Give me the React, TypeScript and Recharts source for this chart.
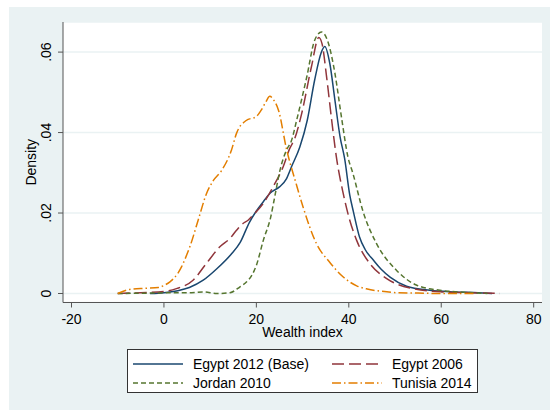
import { CartesianGrid, Legend, Line, LineChart, XAxis, YAxis } from "recharts";

// kernel density curves
const egypt2012X = [-3, 0, 3, 5.5, 8.5, 11.5, 14.5, 16.5, 18.5, 20, 21.5, 23, 25, 26.5, 27.6, 29.4, 31, 32.6, 34, 34.8, 35.9, 37, 38.1, 39.1, 40.2, 41, 42.3, 43.5, 45.3, 47, 49, 52.5, 57.5, 63, 68, 71];
const egypt2012Y = [0, 0.0002, 0.0007, 0.0015, 0.0033, 0.0062, 0.0097, 0.0127, 0.0177, 0.0205, 0.0228, 0.025, 0.0265, 0.0285, 0.0315, 0.0364, 0.043, 0.053, 0.0598, 0.0614, 0.0571, 0.048, 0.039, 0.0335, 0.0245, 0.0203, 0.0141, 0.011, 0.0083, 0.006, 0.004, 0.0018, 0.0008, 0.0004, 0.0002, 0];

const egypt2006X = [-10, -5, 0, 2.7, 6.3, 9.2, 12.1, 14.3, 15.7, 17.1, 18.2, 19.3, 21.5, 23.6, 25.8, 27.2, 28.3, 29.8, 31.9, 33.5, 34.2, 35.2, 36.3, 37.3, 38.8, 39.8, 41.7, 44.5, 48.2, 53.9, 60, 66, 72.7];
const egypt2006Y = [0, 0.0002, 0.0005, 0.0012, 0.0033, 0.0075, 0.0116, 0.0137, 0.0157, 0.0174, 0.0182, 0.0195, 0.0224, 0.0265, 0.0315, 0.036, 0.0385, 0.0447, 0.0563, 0.0636, 0.0621, 0.0538, 0.043, 0.034, 0.0248, 0.0199, 0.0132, 0.0075, 0.0037, 0.0012, 0.0004, 0.0002, 0];

const jordan2010X = [-10, -3, 3, 6, 8.5, 11.5, 14.3, 16.4, 17.9, 19, 20, 21.5, 23.1, 24.1, 25.1, 26.5, 27.6, 28.7, 30.9, 32.6, 34.1, 35.5, 37, 38.4, 39.8, 40.9, 43.1, 46, 50.3, 54.6, 59.7, 65, 70];
const jordan2010Y = [0, 0.0001, 0.0002, 0.0002, 0.0004, 0, 0.0002, 0.0016, 0.0029, 0.0045, 0.007, 0.0132, 0.019, 0.0248, 0.0306, 0.0356, 0.038, 0.043, 0.0538, 0.0629, 0.065, 0.0625, 0.0547, 0.0439, 0.034, 0.0298, 0.0203, 0.0124, 0.0058, 0.0021, 0.0008, 0.0003, 0];

const tunisia2014X = [-10, -7.4, -4, -1.2, 0, 1.3, 3, 3.8, 5, 5.6, 7.4, 9.2, 10.7, 12.5, 14.6, 15.7, 17.8, 20, 21, 22, 22.9, 23.8, 24.8, 26.5, 28.6, 30.1, 33, 35.9, 38.8, 41.7, 44, 46.7, 50.3, 55, 60, 67];
const tunisia2014Y = [0, 0.001, 0.0013, 0.0015, 0.002, 0.0029, 0.005, 0.0066, 0.0098, 0.0116, 0.0182, 0.0248, 0.0281, 0.0306, 0.0356, 0.0398, 0.043, 0.044, 0.0455, 0.0475, 0.049, 0.048, 0.0455, 0.036, 0.0273, 0.0215, 0.0124, 0.0077, 0.0041, 0.0019, 0.0011, 0.0006, 0.0002, 0.0001, 0, 0];

const xTicks = [-20, 0, 20, 40, 60, 80];
const yTicks = [0, 0.02, 0.04, 0.06];

const toPoints = (xs: number[], ys: number[]) => xs.map((x, i) => ({ x, y: ys[i] }));

const FONT = '"Liberation Sans", Arial, sans-serif';

const series = [
  { name: "Egypt 2012 (Base)", data: toPoints(egypt2012X, egypt2012Y), color: "#1A476F", dash: undefined as string | undefined },
  { name: "Egypt 2006", data: toPoints(egypt2006X, egypt2006Y), color: "#90353B", dash: "12 5" },
  { name: "Jordan 2010", data: toPoints(jordan2010X, jordan2010Y), color: "#55752F", dash: "5 3" },
  { name: "Tunisia 2014", data: toPoints(tunisia2014X, tunisia2014Y), color: "#E37E00", dash: "9 3 1.5 3" },
];

const fmtY = (v: number) => (v === 0 ? "0" : v.toFixed(2).replace(/^0/, ""));

function YTick(props: any) {
  const { x, y, payload } = props;
  return (
    <text x={x} y={y} transform={`rotate(-90 ${x} ${y})`} textAnchor="middle" fontSize={14} fill="#000" fontFamily={FONT}>
      {fmtY(payload.value)}
    </text>
  );
}

function LegendBox() {
  return (
    <div
      style={{
        boxSizing: "border-box",
        width: 351,
        height: 44,
        background: "#fff",
        border: "1px solid #333",
        display: "grid",
        gridTemplateColumns: "199px 1fr",
        padding: "4px 0 0 5px",
        fontFamily: FONT,
        fontSize: 14,
        color: "#000",
      }}
    >
      {series.map((s) => (
        <div key={s.name} style={{ display: "flex", alignItems: "center", height: 19 }}>
          <svg width={50} height={10} style={{ marginRight: 10 }}>
            <line x1={0} y1={5} x2={50} y2={5} stroke={s.color} strokeWidth={1.5} strokeDasharray={s.dash} />
          </svg>
          <span>{s.name}</span>
        </div>
      ))}
    </div>
  );
}

export default function App() {
  return (
    <div style={{ position: "absolute", left: 0, top: 0, width: 550, height: 410, background: "#fff", overflow: "hidden" }}>
      <div style={{ position: "absolute", left: 9, top: 7, right: 0, bottom: 0, background: "#EAF2F3" }} />
      <div style={{ position: "absolute", left: 0, top: 0 }}>
        <LineChart width={550} height={410} margin={{ top: 22, right: 8, bottom: 0, left: 0 }}>
          <CartesianGrid vertical={false} fill="#fff" stroke="#EAF2F3" strokeWidth={1.5} />
          <XAxis
            type="number"
            dataKey="x"
            domain={[-21.84, 81.8]}
            ticks={xTicks}
            allowDataOverflow
            height={107.5}
            tickSize={5}
            tickMargin={7}
            stroke="#555"
            tick={{ fontSize: 14, fill: "#000", fontFamily: FONT }}
            label={({ viewBox }: any) => (
              <text x={viewBox.x + viewBox.width / 2} y={337} textAnchor="middle" fontSize={14} fill="#000" fontFamily={FONT}>
                Wealth index
              </text>
            )}
          />
          <YAxis
            type="number"
            dataKey="y"
            domain={[-0.00224, 0.06748]}
            ticks={yTicks}
            allowDataOverflow
            width={63}
            tickSize={5}
            tickMargin={7}
            stroke="#555"
            tick={<YTick />}
            label={({ viewBox }: any) => (
              <text x={36} y={viewBox.y + viewBox.height / 2} transform={`rotate(-90 36 ${viewBox.y + viewBox.height / 2})`} textAnchor="middle" fontSize={14} fill="#000" fontFamily={FONT}>
                Density
              </text>
            )}
          />
          {series.map((s) => (
            <Line
              key={s.name}
              data={s.data}
              dataKey="y"
              name={s.name}
              type="monotone"
              stroke={s.color}
              strokeWidth={1.5}
              strokeDasharray={s.dash}
              dot={false}
              activeDot={false}
              isAnimationActive={false}
            />
          ))}
          <Legend
            layout="horizontal"
            verticalAlign="middle"
            wrapperStyle={{ left: 127, top: 349, width: 351 }}
            content={() => <LegendBox />}
          />
        </LineChart>
      </div>
    </div>
  );
}
